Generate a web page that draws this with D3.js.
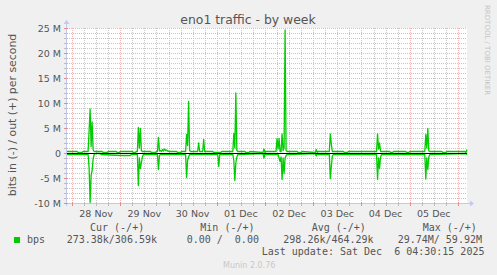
<!DOCTYPE html>
<html>
<head>
<meta charset="utf-8">
<script src="https://cdn.jsdelivr.net/npm/d3@7"></script>
<style>
  body { margin: 0; background: #f0f0f0; }
  svg { display: block; }
  text { font-family: "DejaVu Sans", sans-serif; fill: #555; }
  .mono { font-family: "DejaVu Sans Mono", monospace; font-size: 10px; white-space: pre; }
</style>
</head>
<body>
<div id="chart"></div>
<script>
// munin eno1 traffic, one week, values in Mbit/s
let start = '2025-11-27 21:30',
    end = '2025-12-06 04:30';

let yTicks = [-10, -5, 0, 5, 10, 15, 20, 25];

let outTimes = ['11-27 21:30','11-28 02:30','11-28 03:00','11-28 05:00','11-28 05:30','11-28 08:00','11-28 08:30','11-28 09:00','11-28 09:30','11-28 10:00','11-28 10:30','11-28 11:00',
  '11-28 15:00','11-28 15:30','11-28 17:30','11-28 18:00','11-28 22:00','11-28 22:30','11-28 23:30','11-29 00:00','11-29 06:00','11-29 06:30','11-29 07:30','11-29 08:00',
  '11-29 08:30','11-29 09:00','11-29 09:30','11-29 10:00','11-29 10:30','11-29 11:00','11-29 15:00','11-29 15:30','11-29 17:30','11-29 18:00','11-29 18:30','11-29 19:00',
  '11-29 19:30','11-29 20:00','11-29 20:30','11-29 21:00','11-29 21:30','11-29 22:00','11-29 22:30','11-29 23:00','11-29 23:30','11-30 00:30','11-30 04:00','11-30 04:30',
  '11-30 06:00','11-30 06:30','11-30 08:30','11-30 09:00','11-30 09:30','11-30 10:00','11-30 10:30','11-30 11:00','11-30 14:30','11-30 15:00','11-30 15:30','11-30 17:00',
  '11-30 17:30','11-30 18:00','11-30 22:00','11-30 22:30','12-01 02:00','12-01 02:30','12-01 08:00','12-01 08:30','12-01 09:00','12-01 09:30','12-01 10:00','12-01 10:30',
  '12-01 14:00','12-01 14:30','12-01 16:00','12-01 16:30','12-01 23:00','12-01 23:30','12-02 00:00','12-02 00:30','12-02 05:30','12-02 06:00','12-02 06:30','12-02 07:00',
  '12-02 07:30','12-02 08:00','12-02 08:30','12-02 09:00','12-02 09:30','12-02 10:00','12-02 10:30','12-02 11:00','12-02 16:00','12-02 16:30','12-02 18:00','12-02 18:30',
  '12-03 01:00','12-03 01:30','12-03 02:00','12-03 02:30','12-03 08:00','12-03 08:30','12-03 09:00','12-03 09:30','12-03 15:00','12-03 15:30','12-03 17:00','12-03 17:30',
  '12-04 07:30','12-04 08:00','12-04 08:30','12-04 09:00','12-04 09:30','12-04 14:00','12-04 14:30','12-04 15:30','12-04 16:00','12-04 22:00','12-04 22:30','12-04 23:30',
  '12-05 00:00','12-05 07:30','12-05 08:00','12-05 08:30','12-05 09:00','12-05 09:30','12-05 10:00','12-05 16:00','12-05 16:30','12-05 18:00','12-05 18:30','12-06 03:30',
  '12-06 04:00','12-06 04:30'];
let outMbps = [0.3,0.3,0.1,0.1,0.3,0.3,4.5,8.8,1.3,6.2,0.6,0.3,
  0.3,0.1,0.1,0.3,0.3,0.1,0.1,0.3,0.3,0.1,0.1,0.3,
  0.3,5.1,1.0,4.9,0.5,0.3,0.3,0.1,0.1,0.3,0.3,3.1,
  0.4,0.5,0.3,0.7,0.4,0.8,0.5,0.6,0.4,0.3,0.3,0.1,
  0.1,0.3,0.3,3.7,1.5,10.3,0.5,0.3,0.3,2.0,0.3,0.3,
  2.7,0.3,0.3,0.1,0.1,0.3,0.3,3.9,1.0,12.0,0.5,0.3,
  0.3,0.1,0.1,0.3,0.1,0.8,0.1,0.3,0.3,2.9,0.8,2.9,
  0.3,0.3,3.8,0.5,1.0,24.6,0.5,0.3,0.3,0.1,0.1,0.3,
  0.1,0.7,0.1,0.3,0.3,3.8,1.8,0.3,0.3,0.1,0.1,0.3,
  0.3,3.8,0.8,2.0,0.3,0.3,0.1,0.1,0.3,0.3,0.1,0.1,
  0.3,0.3,3.7,1.0,4.9,0.4,0.3,0.3,0.1,0.1,0.3,0.3,
  0.1,0.7];

// bits in, drawn below zero
let inTimes = ['11-27 21:30','11-28 08:00','11-28 08:30','11-28 09:00','11-28 09:30','11-28 10:00','11-28 10:30','11-28 11:00','11-28 12:00','11-28 14:00','11-28 14:30','11-29 00:30',
  '11-29 05:00','11-29 05:30','11-29 08:30','11-29 09:00','11-29 09:30','11-29 10:00','11-29 10:30','11-29 11:00','11-29 11:30','11-29 18:30','11-29 19:00','11-29 19:30',
  '11-29 20:00','11-30 08:30','11-30 09:00','11-30 09:30','11-30 10:00','11-30 10:30','12-01 00:30','12-01 01:00','12-01 01:30','12-01 08:00','12-01 08:30','12-01 09:00',
  '12-01 09:30','12-01 10:00','12-01 10:30','12-01 23:00','12-01 23:30','12-02 00:00','12-02 00:30','12-02 06:30','12-02 07:00','12-02 07:30','12-02 08:00','12-02 08:30',
  '12-02 09:00','12-02 09:30','12-02 10:00','12-02 10:30','12-02 11:00','12-03 01:00','12-03 01:30','12-03 02:00','12-03 02:30','12-03 08:00','12-03 08:30','12-03 09:00',
  '12-03 09:30','12-03 10:00','12-04 07:30','12-04 08:00','12-04 08:30','12-04 09:00','12-04 09:30','12-04 10:00','12-05 07:30','12-05 08:00','12-05 08:30','12-05 09:00',
  '12-05 09:30','12-05 10:00','12-06 04:00','12-06 04:30'];
let inMbps = [0.3,0.3,3.0,9.9,4.5,3.5,1.2,0.3,0.1,0.1,0.3,0.5,
  0.5,0.3,0.3,6.5,1.0,3.1,2.0,0.8,0.3,0.3,3.3,0.5,
  0.3,0.3,4.9,1.5,0.8,0.3,0.3,2.7,0.3,0.3,1.5,5.5,
  2.0,0.8,0.3,0.1,1.0,0.1,0.3,0.3,1.0,1.7,0.8,5.3,
  1.0,4.1,1.0,0.5,0.3,0.1,0.6,0.1,0.3,0.3,5.1,2.7,
  0.6,0.3,0.3,5.3,1.0,3.1,0.8,0.3,0.3,5.2,1.0,3.3,
  0.8,0.3,0.1,0.3];

let legendHeads = ['Cur (-/+)', 'Min (-/+)', 'Avg (-/+)', 'Max (-/+)'];
let legendVals = ['273.38k/306.59k', '0.00 /  0.00', '298.26k/464.29k', '29.74M/ 59.92M'];

let width = 497, height = 275,
    plot = {left: 67, right: 467, top: 28, bottom: 203},
    green = '#00cc00', axisColor = '#c4c8f0';

let parse = d3.utcParse('%Y-%m-%d %H:%M');
let toDate = s => parse('2025-' + s);

let x = d3.scaleUtc()
    .domain([parse(start), parse(end)])
    .range([plot.left, plot.right]);

let y = d3.scaleLinear()
    .domain([-10, 25])
    .range([plot.bottom, plot.top]);

let svg = d3.select('#chart')
  .append('svg')
    .attr('width', width)
    .attr('height', height);

svg.append('rect')
    .attr('width', width).attr('height', height)
    .attr('fill', '#f0f0f0');

svg.append('rect')
    .attr('x', plot.left).attr('y', plot.top)
    .attr('width', plot.right - plot.left)
    .attr('height', plot.bottom - plot.top)
    .attr('fill', '#fff');

// grid
let minorHours = d3.utcHour.every(6).range(x.domain()[0], x.domain()[1]);
let days = d3.utcDay.range(x.domain()[0], x.domain()[1]);
let grid = svg.append('g').attr('shape-rendering', 'crispEdges');

grid.selectAll('line.vminor')
  .data(minorHours.filter(d => d.getUTCHours() !== 0))
  .enter().append('line')
    .attr('x1', d => Math.round(x(d)) + 0.5).attr('x2', d => Math.round(x(d)) + 0.5)
    .attr('y1', plot.top).attr('y2', plot.bottom)
    .attr('stroke', '#c6c6c6').attr('stroke-dasharray', '1,1');

grid.selectAll('line.hminor')
  .data(d3.range(-10, 26, 1).filter(d => d % 5 !== 0))
  .enter().append('line')
    .attr('x1', plot.left).attr('x2', plot.right)
    .attr('y1', d => Math.round(y(d)) + 0.5).attr('y2', d => Math.round(y(d)) + 0.5)
    .attr('stroke', '#c6c6c6').attr('stroke-dasharray', '1,1');

grid.selectAll('line.vmajor')
  .data(days)
  .enter().append('line')
    .attr('x1', d => Math.round(x(d)) + 0.5).attr('x2', d => Math.round(x(d)) + 0.5)
    .attr('y1', plot.top).attr('y2', plot.bottom)
    .attr('stroke', '#efb4b4').attr('stroke-dasharray', '1,1');

grid.selectAll('line.hmajor')
  .data(yTicks)
  .enter().append('line')
    .attr('x1', plot.left).attr('x2', plot.right)
    .attr('y1', d => Math.round(y(d)) + 0.5).attr('y2', d => Math.round(y(d)) + 0.5)
    .attr('stroke', '#efb4b4').attr('stroke-dasharray', '1,1');

// axes with rrdtool style arrows
let axes = svg.append('g').attr('shape-rendering', 'crispEdges');
axes.append('line')
    .attr('x1', plot.left - 0.5).attr('x2', plot.left - 0.5)
    .attr('y1', plot.bottom + 3).attr('y2', plot.top - 5)
    .attr('stroke', axisColor);
axes.append('line')
    .attr('x1', plot.left - 3).attr('x2', plot.right + 4)
    .attr('y1', plot.bottom + 0.5).attr('y2', plot.bottom + 0.5)
    .attr('stroke', axisColor);
svg.append('path')
    .attr('d', `M${plot.left - 3.5},${plot.top - 4}L${plot.left - 0.5},${plot.top - 8}L${plot.left + 2.5},${plot.top - 4}Z`)
    .attr('fill', axisColor);
svg.append('path')
    .attr('d', `M${plot.right + 3},${plot.bottom - 2.5}L${plot.right + 7},${plot.bottom + 0.5}L${plot.right + 3},${plot.bottom + 3.5}Z`)
    .attr('fill', axisColor);

axes.selectAll('line.xtick')
  .data(minorHours)
  .enter().append('line')
    .attr('x1', d => Math.round(x(d)) + 0.5).attr('x2', d => Math.round(x(d)) + 0.5)
    .attr('y1', plot.bottom - 1).attr('y2', plot.bottom + 3)
    .attr('stroke', d => d.getUTCHours() === 0 ? '#e68a8a' : '#bdbdbd');

axes.selectAll('line.ytick')
  .data(d3.range(-10, 26, 1))
  .enter().append('line')
    .attr('x1', plot.left - 3).attr('x2', plot.left + 1)
    .attr('y1', d => Math.round(y(d)) + 0.5).attr('y2', d => Math.round(y(d)) + 0.5)
    .attr('stroke', d => d % 5 === 0 ? '#e68a8a' : '#bdbdbd');

// tick labels
svg.selectAll('text.ylab')
  .data(yTicks)
  .enter().append('text')
    .attr('x', 61)
    .attr('y', d => y(d) + 3.5)
    .attr('text-anchor', 'end')
    .attr('font-size', '9.5px')
    .text(d => d === 0 ? '0' : `${d} M`);

// day labels sit at noon, only those inside the window
svg.selectAll('text.xlab')
  .data(days.filter(d => d3.utcHour.offset(d, 12) < x.domain()[1]))
  .enter().append('text')
    .attr('x', d => x(d3.utcHour.offset(d, 12)))
    .attr('y', 216.5)
    .attr('text-anchor', 'middle')
    .attr('font-size', '9.5px')
    .text(d => d3.utcFormat('%d %b')(d));

// series
let line = d3.line()
    .x(d => x(d[0]))
    .y(d => y(d[1]));

let outData = outTimes.map((t, i) => [toDate(t), outMbps[i]]);
let inData = inTimes.map((t, i) => [toDate(t), -inMbps[i]]);

let series = svg.append('g');
[inData, outData].forEach(data => {
  series.append('path')
      .datum(data)
      .attr('fill', 'none')
      .attr('stroke', green)
      .attr('stroke-width', 1.3)
      .attr('stroke-linejoin', 'round')
      .attr('d', line);
});

svg.append('line')
    .attr('x1', plot.left).attr('x2', plot.right)
    .attr('y1', Math.round(y(0)) + 0.5).attr('y2', Math.round(y(0)) + 0.5)
    .attr('stroke', '#000')
    .attr('shape-rendering', 'crispEdges');

// titles
svg.append('text')
    .attr('x', 248).attr('y', 24)
    .attr('text-anchor', 'middle')
    .attr('font-size', '12.4px')
    .text('eno1 traffic - by week');

svg.append('text')
    .attr('transform', 'translate(15.5,115) rotate(-90)')
    .attr('text-anchor', 'middle')
    .attr('font-size', '10.9px')
    .text('bits in (-) / out (+) per second');

svg.append('text')
    .attr('transform', 'translate(485,5) rotate(90)')
    .attr('font-size', '7px')
    .style('fill', '#c4c4c4')
    .text('RRDTOOL / TOBI OETIKER');

// legend
let headX = [90, 200.3, 311.7, 422.7],
    valX = [66.7, 186.7, 283.3, 397.7];

svg.selectAll('text.head')
  .data(legendHeads)
  .enter().append('text')
    .attr('class', 'mono')
    .attr('x', (d, i) => headX[i]).attr('y', 231)
    .text(d => d);

svg.append('rect')
    .attr('x', 14).attr('y', 237)
    .attr('width', 6).attr('height', 6)
    .attr('fill', green);

svg.append('text')
    .attr('class', 'mono')
    .attr('x', 27).attr('y', 243)
    .text('bps');

svg.selectAll('text.val')
  .data(legendVals)
  .enter().append('text')
    .attr('class', 'mono')
    .attr('x', (d, i) => valX[i]).attr('y', 243)
    .text(d => d);

svg.append('text')
    .attr('class', 'mono')
    .attr('x', 261.7).attr('y', 255)
    .text('Last update: Sat Dec  6 04:30:15 2025');

svg.append('text')
    .attr('x', 223).attr('y', 268)
    .attr('font-size', '8px')
    .style('fill', '#c8c8c8')
    .text('Munin 2.0.76');
</script>
</body>
</html>
